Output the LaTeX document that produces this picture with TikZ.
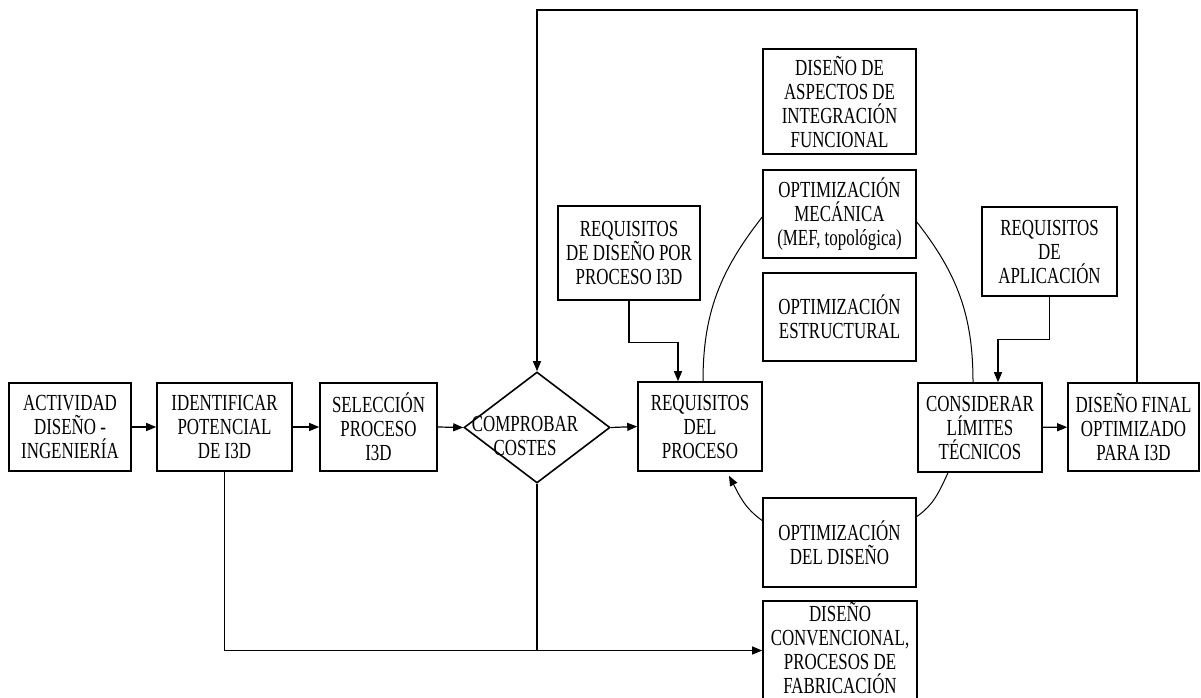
\documentclass[tikz,border=0pt]{standalone}
\usepackage{fontspec}
\setmainfont{Liberation Serif}[FakeStretch=0.735]
\usetikzlibrary{shapes.geometric,arrows.meta,calc}
\begin{document}
\begin{tikzpicture}[x=1pt,y=-1pt,
  box/.style={draw,line width=1.6pt,rectangle,inner sep=0pt,align=center,
    font=\fontsize{23}{24}\selectfont},
  txt/.style={inner sep=0pt,align=center,font=\fontsize{23}{24}\selectfont},
  conn/.style={line width=1.2pt},
  arr/.style={conn,-{Triangle[length=10pt,width=8pt]}},
  arc/.style={line width=1pt}]
\useasboundingbox (0,0) rectangle (1201,698);
\clip (0,0) rectangle (1201,698);
% nodes
\node[box,minimum width=122,minimum height=88] (act) at (70,427) {ACTIVIDAD\\DISEÑO -\\INGENIERÍA};
\node[box,minimum width=135,minimum height=88] (ident) at (224.5,427) {IDENTIFICAR\\POTENCIAL\\DE I3D};
\node[box,minimum width=117,minimum height=88] (sel) at (378.5,427) {SELECCIÓN\\PROCESO\\I3D};
\node[draw,line width=1.6pt,diamond,inner sep=0pt,minimum width=146,minimum height=111] (cost) at (537,427.5) {};
\node[txt] (costtxt) at (525,436) {COMPROBAR\\COSTES};
\node[box,minimum width=124,minimum height=89] (reqp) at (700,426.5) {REQUISITOS\\DEL\\PROCESO};
\node[box,minimum width=142,minimum height=94] (reqd) at (629,253) {REQUISITOS\\DE DISEÑO POR\\PROCESO I3D};
\node[box,minimum width=153,minimum height=105] (asp) at (839.5,101.5) {DISEÑO DE\\ASPECTOS DE\\INTEGRACIÓN\\FUNCIONAL};
\node[box,minimum width=153,minimum height=88] (mec) at (839.5,214) {OPTIMIZACIÓN\\MECÁNICA\\(MEF, topológica)};
\node[box,minimum width=153,minimum height=88] (est) at (839.5,317) {OPTIMIZACIÓN\\ESTRUCTURAL};
\node[box,minimum width=135,minimum height=89] (app) at (1049.5,251.5) {REQUISITOS\\DE\\APLICACIÓN};
\node[box,minimum width=124,minimum height=89] (cons) at (980,427.5) {CONSIDERAR\\LÍMITES\\TÉCNICOS};
\node[box,minimum width=131,minimum height=88] (fin) at (1133.5,427) {DISEÑO FINAL\\OPTIMIZADO\\PARA I3D};
\node[box,minimum width=153,minimum height=89] (odis) at (839.5,542.5) {OPTIMIZACIÓN\\DEL DISEÑO};
\node[box,minimum width=154,minimum height=99] (conv) at (840,650.5) {};
\node[txt] (convtxt) at (840,647.5) {DISEÑO\\CONVENCIONAL,\\PROCESOS DE\\FABRICACIÓN};
\coordinate (topr) at (1137,10);
% main chain
\draw[arr] (act) -- (ident);
\draw[arr] (ident) -- (sel);
\draw[arr] (sel.east) -- (cost.west);
\draw[arr] (cost.east) -- (reqp.west);
\draw[arr] (cons) -- (fin);
% side inputs
\draw[arr] (reqd.south) -- ++(0,42) -| ($(reqp.north)+(-22,0)$);
\draw[arr] (app.south) -- ++(0,43) -| ($(cons.north)+(18,0)$);
% feedback
\draw[arr] (fin.north -| topr) -- (topr) -| (cost.north);
% conventional path
\draw[arr] (ident.south) |- (conv.west);
\draw[conn] (cost.south) -- (cost.south |- conv.west);
% optimisation loop
\draw[arc] ($(reqp.north)+(3,0)$) to[out=90,in=232] ($(mec.west)+(0,3)$);
\draw[arc] ($(mec.east)+(0,8)$) to[out=-52,in=90] ($(cons.north)+(-7,0)$);
\draw[arc] ($(cons.south)+(-32,0)$) to[out=245,in=35] ($(odis.east)+(0,-26)$);
\draw[arc,-{Triangle[length=10pt,width=8pt]}] ($(odis.west)+(0,-22)$) to[out=145,in=-62] ($(reqp.south)+(29,4)$);
\end{tikzpicture}
\end{document}
